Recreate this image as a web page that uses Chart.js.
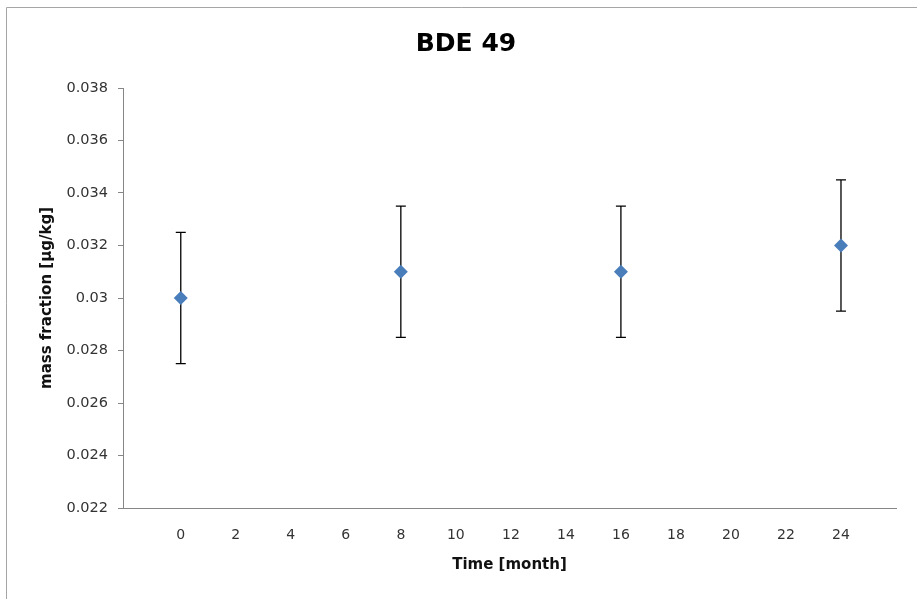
<!DOCTYPE html>
<html>
<head>
<meta charset="utf-8">
<script src="https://cdn.jsdelivr.net/npm/chart.js@4/dist/chart.umd.min.js"></script>
<style>
    html, body { margin: 0; padding: 0; background: #fff; }
    #wrap { width: 917px; height: 599px; }
</style>
</head>
<body>
<div id="wrap"><canvas id="chart"></canvas></div>
<script>
// stability study, BDE 49
var months = [0, 8, 16, 24];
var massFraction = [0.030, 0.031, 0.031, 0.032];
var uncertainty = [0.0025, 0.0025, 0.0025, 0.0025];
var xTicks = [0, 2, 4, 6, 8, 10, 12, 14, 16, 18, 20, 22, 24];

var points = months.map(function (m, i) {
    return { x: m, y: massFraction[i] };
});

// excel-like frame: only top and left edges
var framePlugin = {
    id: 'frame',
    afterLayout: function (chart) {
        // excel centres the title a bit right of the canvas middle
        if (chart.titleBlock) {
            chart.titleBlock.left = 36;
        }
    },
    beforeDraw: function (chart) {
        var ctx = chart.ctx;
        ctx.save();
        ctx.strokeStyle = '#a6a6a6';
        ctx.lineWidth = 1;
        ctx.beginPath();
        ctx.moveTo(6.5, chart.height);
        ctx.lineTo(6.5, 7.5);
        ctx.lineTo(chart.width, 7.5);
        ctx.stroke();
        ctx.restore();
    }
};

// error bars drawn under the markers
var errorBars = {
    id: 'errorBars',
    beforeDatasetsDraw: function (chart) {
        var ctx = chart.ctx;
        var xs = chart.scales.x, ys = chart.scales.y;
        ctx.save();
        ctx.strokeStyle = '#000';
        ctx.lineWidth = 1.3;
        for (var i = 0; i < months.length; i++) {
            var px = xs.getPixelForValue(months[i]);
            var top = ys.getPixelForValue(massFraction[i] + uncertainty[i]);
            var bot = ys.getPixelForValue(massFraction[i] - uncertainty[i]);
            ctx.beginPath();
            ctx.moveTo(px, top);
            ctx.lineTo(px, bot);
            ctx.moveTo(px - 5, top);
            ctx.lineTo(px + 5, top);
            ctx.moveTo(px - 5, bot);
            ctx.lineTo(px + 5, bot);
            ctx.stroke();
        }
        ctx.restore();
    }
};

new Chart(document.getElementById('chart'), {
    type: 'scatter',
    data: {
        datasets: [{
            data: points,
            pointStyle: 'rectRot',
            pointRadius: 7,
            pointHoverRadius: 7,
            backgroundColor: '#4a7ebb',
            borderColor: '#4a7ebb',
            borderWidth: 0
        }]
    },
    options: {
        responsive: true,
        maintainAspectRatio: false,
        animation: false,
        layout: { padding: { left: 0, right: 21, top: 0, bottom: 0 } },
        plugins: {
            legend: { display: false },
            tooltip: { enabled: false },
            title: {
                display: true,
                text: 'BDE 49',
                color: '#000',
                font: { family: 'DejaVu Sans', size: 25, weight: 'bold' },
                padding: { top: 29, bottom: 29 }
            }
        },
        scales: {
            x: {
                type: 'linear',
                min: -2.1,
                max: 26,
                afterFit: function (s) { s.height = 91; },
                afterBuildTicks: function (s) {
                    s.ticks = xTicks.map(function (v) { return { value: v }; });
                },
                grid: { display: false, drawTicks: false },
                border: { display: true, color: '#868686', width: 1 },
                ticks: {
                    padding: 19,
                    color: '#333',
                    font: { family: 'DejaVu Sans', size: 14 }
                },
                title: {
                    display: true,
                    text: 'Time [month]',
                    color: '#111',
                    font: { family: 'DejaVu Sans', size: 15, weight: 'bold' },
                    padding: { top: 0, bottom: 25 }
                }
            },
            y: {
                min: 0.022,
                max: 0.038,
                afterFit: function (s) { s.width = 123; },
                grid: { drawOnChartArea: false, drawTicks: true, tickLength: 5, color: '#868686' },
                border: { display: true, color: '#868686', width: 1 },
                ticks: {
                    stepSize: 0.002,
                    padding: 10,
                    color: '#333',
                    font: { family: 'DejaVu Sans', size: 14.5 },
                    callback: function (v) { return String(+v.toFixed(3)); }
                },
                title: {
                    display: true,
                    text: 'mass fraction [µg/kg]',
                    color: '#111',
                    font: { family: 'DejaVu Sans', size: 15, weight: 'bold' },
                    padding: { top: 38, bottom: 0 }
                }
            }
        }
    },
    plugins: [framePlugin, errorBars]
});
</script>
</body>
</html>
